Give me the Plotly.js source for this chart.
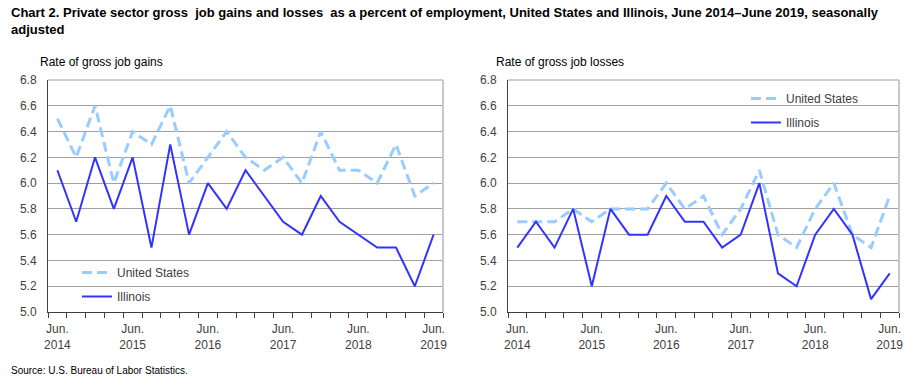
<!DOCTYPE html>
<html><head><meta charset="utf-8">
<script src="https://cdn.plot.ly/plotly-3.0.1.min.js"></script>
<style>body{margin:0;padding:0;background:#fff}#c{width:918px;height:385px}</style>
</head><body><div id="c"></div>
<script>
const quarters = ["Jun. 2014","Sep. 2014","Dec. 2014","Mar. 2015","Jun. 2015","Sep. 2015","Dec. 2015","Mar. 2016","Jun. 2016","Sep. 2016","Dec. 2016","Mar. 2017","Jun. 2017","Sep. 2017","Dec. 2017","Mar. 2018","Jun. 2018","Sep. 2018","Dec. 2018","Mar. 2019","Jun. 2019"];
const usGains = [6.5,6.2,6.6,6.0,6.4,6.3,6.6,6.0,6.2,6.4,6.2,6.1,6.2,6.0,6.4,6.1,6.1,6.0,6.3,5.9,6.0];
const ilGains = [6.1,5.7,6.2,5.8,6.2,5.5,6.3,5.6,6.0,5.8,6.1,5.9,5.7,5.6,5.9,5.7,5.6,5.5,5.5,5.2,5.6];
const usLosses = [5.7,5.7,5.7,5.8,5.7,5.8,5.8,5.8,6.0,5.8,5.9,5.6,5.8,6.1,5.6,5.5,5.8,6.0,5.6,5.5,5.9];
const ilLosses = [5.5,5.7,5.5,5.8,5.2,5.8,5.6,5.6,5.9,5.7,5.7,5.5,5.6,6.0,5.3,5.2,5.6,5.8,5.6,5.1,5.3];
const xTickLabels = ["Jun.<br>2014","Jun.<br>2015","Jun.<br>2016","Jun.<br>2017","Jun.<br>2018","Jun.<br>2019"];
const yTicks = [5.0,5.2,5.4,5.6,5.8,6.0,6.2,6.4,6.6,6.8];

const idx = quarters.map((q,i)=>i);
const xTickVals = idx.filter(i=>i%4===0);
const usColor = '#99CCFF', ilColor = '#3333FF';
const font = 'Liberation Sans, Arial, sans-serif';

function tr(y, name, color, dash, width, xa, ya, leg, grp){
  return {x: idx, y: y, name: name, type:'scatter', mode:'lines',
    line:{color:color, dash:dash, width:width}, xaxis:xa, yaxis:ya,
    legend:leg, legendgroup:grp, text: quarters, hoverinfo:'text+y'};
}
const data = [
  tr(usGains,'United States',usColor,'10px,5px',3,'x','y','legend','a'),
  tr(ilGains,'Illinois',ilColor,'solid',2,'x','y','legend','b'),
  tr(usLosses,'United States',usColor,'10px,5px',3,'x2','y2','legend2','a'),
  tr(ilLosses,'Illinois',ilColor,'solid',2,'x2','y2','legend2','b')
];
const W=918,H=385;
function xax(d){
  return {domain:d, range:[-0.5,20.5], tickmode:'array', tickvals:xTickVals, ticktext:xTickLabels,
    ticks:'', showgrid:false, zeroline:false, showline:true, linecolor:'#404040', linewidth:1,
    tickfont:{family:font,size:12,color:'#404040'}, ticklabelstandoff:6,
    minor:{tick0:-0.5, dtick:1, ticks:'outside', ticklen:5, tickcolor:'#404040', showgrid:false},
    fixedrange:true};
}
function yax(anchor){
  return {domain:[1-312/H,1-80/H], range:[5.0,6.8], tickmode:'array', tickvals:yTicks,
    ticktext:yTicks.map(v=>v.toFixed(1)), ticks:'', showgrid:true, gridcolor:'#A0A0A0', gridwidth:1,
    zeroline:false, showline:true, linecolor:'#404040', linewidth:1, anchor:anchor,
    tickfont:{family:font,size:12,color:'#404040'}, ticklabelstandoff:8, fixedrange:true};
}
const layout = {
  width:W, height:H, margin:{l:0,r:0,t:0,b:0}, paper_bgcolor:'#fff', plot_bgcolor:'#fff',
  font:{family:font,size:12,color:'#000'},
  xaxis: Object.assign(xax([48/W,443/W]),{anchor:'y'}),
  yaxis: yax('x'),
  xaxis2: Object.assign(xax([508/W,899/W]),{anchor:'y2'}),
  yaxis2: yax('x2'),
  legend:{x:77/W, y:1-258/H, xanchor:'left', yanchor:'top', bgcolor:'rgba(0,0,0,0)',
    font:{family:font,size:12,color:'#404040'}, traceorder:'grouped', tracegroupgap:5, itemwidth:30},
  legend2:{x:746/W, y:1-84/H, xanchor:'left', yanchor:'top', bgcolor:'rgba(0,0,0,0)',
    font:{family:font,size:12,color:'#404040'}, traceorder:'grouped', tracegroupgap:5, itemwidth:30},
  showlegend:true,
  shapes:[
    {type:'line', xref:'paper', yref:'paper', x0:48/W, x1:443/W, y0:1-80/H, y1:1-80/H, line:{color:'#A0A0A0',width:1}},
    {type:'line', xref:'paper', yref:'paper', x0:443/W, x1:443/W, y0:1-80/H, y1:1-312/H, line:{color:'#C8C8C8',width:2}},
    {type:'line', xref:'paper', yref:'paper', x0:508/W, x1:899/W, y0:1-80/H, y1:1-80/H, line:{color:'#A0A0A0',width:1}},
    {type:'line', xref:'paper', yref:'paper', x0:899/W, x1:899/W, y0:1-80/H, y1:1-312/H, line:{color:'#C8C8C8',width:2}}
  ],
  annotations:[
    {text:'<b>Chart 2. Private sector gross  job gains and losses  as a percent of employment, United States and Illinois, June 2014–June 2019, seasonally<br>adjusted</b>',
     xref:'paper', yref:'paper', x:9/W, y:1-3/H, xanchor:'left', yanchor:'top', align:'left', showarrow:false,
     font:{family:'Liberation Sans Narrow, Arial Narrow, Liberation Sans, sans-serif', size:13, color:'#000'}},
    {text:'Rate of gross job gains', xref:'paper', yref:'paper', x:38/W, y:1-53/H, xanchor:'left', yanchor:'top', showarrow:false,
     font:{family:font,size:12,color:'#000'}},
    {text:'Rate of gross job losses', xref:'paper', yref:'paper', x:494/W, y:1-53/H, xanchor:'left', yanchor:'top', showarrow:false,
     font:{family:font,size:12,color:'#000'}},
    {text:'Source: U.S. Bureau of Labor Statistics.', xref:'paper', yref:'paper', x:9/W, y:1-363/H, xanchor:'left', yanchor:'top', showarrow:false,
     font:{family:font,size:10,color:'#000'}}
  ]
};
Plotly.newPlot('c', data, layout, {displayModeBar:false, staticPlot:true});
</script></body></html>
